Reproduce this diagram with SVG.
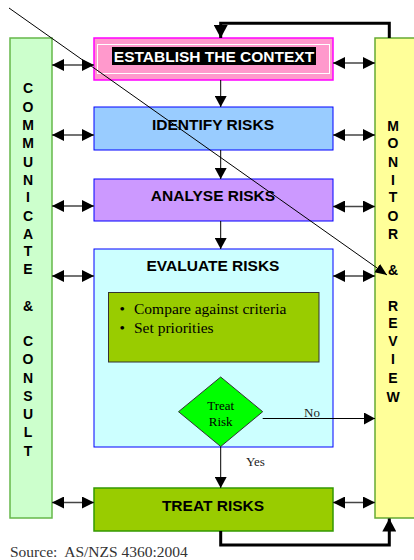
<svg xmlns="http://www.w3.org/2000/svg" width="414" height="560" viewBox="0 0 414 560">
<style>
.t{font-family:"Liberation Sans",Arial,sans-serif;font-weight:bold;font-size:14px;fill:#000;text-anchor:middle}
.h{font-size:15.5px}
.s{font-family:"Liberation Serif","Times New Roman",serif;font-size:15.5px;fill:#000}
.dbl{stroke:#444;stroke-width:1.5;fill:none;marker-start:url(#ah);marker-end:url(#ah)}
.v{stroke:#000;stroke-width:1;fill:none;marker-end:url(#av)}
.fb{stroke:#000;stroke-width:3;fill:none;marker-end:url(#af)}
</style>
<defs>
<marker id="ah" markerUnits="userSpaceOnUse" markerWidth="12" markerHeight="12" refX="12" refY="6" orient="auto-start-reverse"><path d="M0,0 L12,6 L0,12 Z" fill="#000"/></marker>
<marker id="av" markerUnits="userSpaceOnUse" markerWidth="12" markerHeight="12" refX="11" refY="6" orient="auto"><path d="M0,0 L11,6 L0,12 Z" fill="#000"/></marker>
<marker id="af" markerUnits="userSpaceOnUse" markerWidth="14" markerHeight="14" refX="13" refY="7" orient="auto"><path d="M0,0 L13,7 L0,14 Z" fill="#000"/></marker>
<marker id="ad" markerUnits="userSpaceOnUse" markerWidth="12" markerHeight="12" refX="12" refY="5" orient="auto"><path d="M0,0 L12,5 L0,10 Z" fill="#000"/></marker>
</defs>
<rect width="414" height="560" fill="#fff"/>

<g id="communicate">
<rect x="10" y="38" width="42" height="480" fill="#ccffcc" stroke="#66b84a" stroke-width="1.5"/>
<text class="t" x="28" y="93">C</text>
<text class="t" x="28" y="111.5">O</text>
<text class="t" x="28" y="130">M</text>
<text class="t" x="28" y="148">M</text>
<text class="t" x="28" y="166.5">U</text>
<text class="t" x="28" y="184.5">N</text>
<text class="t" x="28" y="202">I</text>
<text class="t" x="28" y="220.5">C</text>
<text class="t" x="28" y="238.5">A</text>
<text class="t" x="28" y="256">T</text>
<text class="t" x="28" y="274">E</text>
<text class="t" x="28" y="310.5">&amp;</text>
<text class="t" x="28" y="346">C</text>
<text class="t" x="28" y="364">O</text>
<text class="t" x="28" y="382.5">N</text>
<text class="t" x="28" y="400.5">S</text>
<text class="t" x="28" y="419">U</text>
<text class="t" x="28" y="437">L</text>
<text class="t" x="28" y="455.5">T</text>
</g>

<g id="monitor">
<rect x="375" y="38" width="45" height="480" fill="#ffff99" stroke="#66aa33" stroke-width="1.5"/>
<text class="t" x="393" y="130.5">M</text>
<text class="t" x="393" y="148">O</text>
<text class="t" x="393" y="166.5">N</text>
<text class="t" x="393" y="184.5">I</text>
<text class="t" x="393" y="202">T</text>
<text class="t" x="393" y="220.5">O</text>
<text class="t" x="393" y="238.5">R</text>
<text class="t" x="393" y="274.5">&amp;</text>
<text class="t" x="393" y="310.5">R</text>
<text class="t" x="393" y="328">E</text>
<text class="t" x="393" y="346">V</text>
<text class="t" x="393" y="364">I</text>
<text class="t" x="393" y="382.5">E</text>
<text class="t" x="393" y="401.5">W</text>
</g>

<g id="establish">
<rect x="94" y="38" width="239" height="42" fill="#ff99cc" stroke="#ff00ff" stroke-width="1.5"/>
<rect x="97.5" y="44.5" width="232" height="29" fill="none" stroke="#fff" stroke-width="1"/>
<rect x="112" y="47" width="204" height="18" fill="#000"/>
<text class="t h" x="214" y="61.5" style="fill:#fff">ESTABLISH THE CONTEXT</text>
</g>

<g id="identify">
<rect x="94" y="107" width="239" height="43" fill="#99ccff" stroke="#0000ff" stroke-width="1"/>
<text class="t h" x="213" y="129.5">IDENTIFY RISKS</text>
</g>

<g id="analyse">
<rect x="94" y="179" width="239" height="42" fill="#cc99ff" stroke="#0000ff" stroke-width="1"/>
<text class="t h" x="213" y="201">ANALYSE RISKS</text>
</g>

<g id="evaluate">
<rect x="94" y="249" width="239" height="198" fill="#ccffff" stroke="#0000ff" stroke-width="1"/>
<text class="t h" x="213" y="270.5">EVALUATE RISKS</text>
</g>

<g id="criteria">
<rect x="108.5" y="292.5" width="210.5" height="69.5" fill="#99cc00" stroke="#333" stroke-width="1"/>
<text class="s" x="119.5" y="314">•</text>
<text class="s" x="134" y="314">Compare against criteria</text>
<text class="s" x="119.5" y="332.5">•</text>
<text class="s" x="134" y="332.5">Set priorities</text>
</g>

<g id="treat-risk">
<polygon points="220.7,377 262.7,411.7 220.7,446.5 178.5,411.7" fill="#00ff00" stroke="#333" stroke-width="1"/>
<text class="s" x="220.7" y="410" text-anchor="middle" style="font-size:13px">Treat</text>
<text class="s" x="220.7" y="426" text-anchor="middle" style="font-size:13px">Risk</text>
</g>

<g id="treat">
<rect x="94" y="488" width="239" height="43" fill="#99cc00" stroke="#339900" stroke-width="1.5"/>
<text class="t h" x="213" y="510.5">TREAT RISKS</text>
</g>

<g id="connectors">
<line class="dbl" x1="52" y1="65" x2="94" y2="65"/>
<line class="dbl" x1="52" y1="135" x2="94" y2="135"/>
<line class="dbl" x1="52" y1="206" x2="94" y2="206"/>
<line class="dbl" x1="52" y1="276" x2="94" y2="276"/>
<line class="dbl" x1="52" y1="502.5" x2="94" y2="502.5"/>
<line class="dbl" x1="333" y1="63" x2="375" y2="63"/>
<line class="dbl" x1="333" y1="135" x2="375" y2="135"/>
<line class="dbl" x1="333" y1="206.5" x2="375" y2="206.5"/>
<line class="dbl" x1="333" y1="276" x2="375" y2="276"/>
<line class="dbl" x1="333" y1="502.5" x2="375" y2="502.5"/>
<line class="v" x1="220.7" y1="80" x2="220.7" y2="107"/>
<line class="v" x1="220.7" y1="150" x2="220.7" y2="179"/>
<line class="v" x1="220.7" y1="221" x2="220.7" y2="249"/>
<line class="v" x1="220.7" y1="446.5" x2="220.7" y2="488"/>
<line class="v" x1="262.7" y1="418.5" x2="375" y2="418.5"/>
<text class="s" x="304" y="417" style="font-size:13px;fill:#222">No</text>
<text class="s" x="246" y="466" style="font-size:13px;fill:#222">Yes</text>
<polyline class="fb" points="389.3,38 389.3,23.3 220.7,23.3 220.7,38"/>
<polyline class="fb" points="220.7,531 220.7,545 389.3,545 389.3,518.5"/>
<line x1="9" y1="8" x2="387" y2="275" stroke="#000" stroke-width="1" marker-end="url(#ad)"/>
</g>

<text class="s" x="10" y="556.5" style="fill:#333" xml:space="preserve">Source:  AS/NZS 4360:2004</text>
</svg>
